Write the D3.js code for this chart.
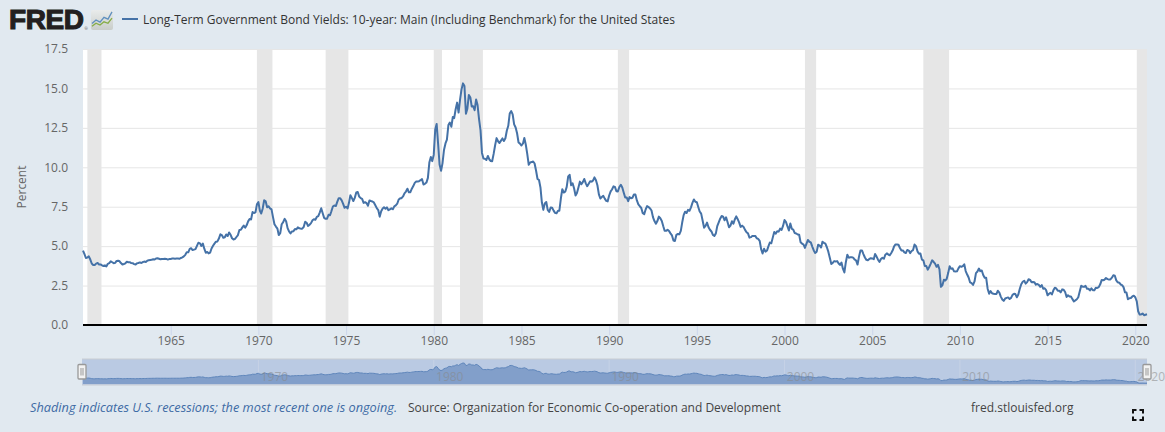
<!DOCTYPE html>
<html>
<head>
<meta charset="utf-8">
<script src="https://cdn.jsdelivr.net/npm/d3@7"></script>
<style>
html,body{margin:0;padding:0;background:#e1e9f0;overflow:hidden;}
text{font-family:"Open Sans",sans-serif;}
</style>
</head>
<body>
<div id="chart"></div>
<script>
// monthly values, one row per year, starting Jan 1960
const startYear = 1960;
const yieldRows = [
  [4.72,4.49,4.25,4.28,4.35,4.15,3.90,3.80,3.80,3.89,3.93,3.84],
  [3.84,3.78,3.74,3.78,3.71,3.88,3.92,4.04,3.98,3.92,3.94,4.06],
  [4.08,4.04,3.93,3.84,3.87,3.91,4.01,3.98,3.98,3.93,3.92,3.86],
  [3.83,3.92,3.93,3.97,3.93,3.99,4.02,4.00,4.08,4.11,4.12,4.13],
  [4.17,4.15,4.22,4.23,4.20,4.17,4.19,4.19,4.20,4.19,4.15,4.18],
  [4.19,4.21,4.21,4.20,4.21,4.21,4.20,4.25,4.29,4.35,4.45,4.62],
  [4.61,4.83,4.87,4.75,4.78,4.81,5.02,5.22,5.18,5.01,5.16,4.84],
  [4.58,4.63,4.54,4.59,4.85,5.02,5.16,5.28,5.30,5.48,5.75,5.70],
  [5.53,5.56,5.74,5.64,5.87,5.72,5.50,5.42,5.46,5.58,5.70,6.03],
  [6.04,6.19,6.30,6.17,6.32,6.57,6.72,6.69,7.16,7.10,7.14,7.65],
  [7.79,7.24,7.07,7.39,7.91,7.84,7.46,7.53,7.39,7.33,6.84,6.39],
  [6.24,6.11,5.70,5.83,6.39,6.52,6.73,6.58,6.14,5.93,5.81,5.93],
  [5.95,6.08,6.07,6.19,6.13,6.11,6.11,6.21,6.55,6.48,6.28,6.36],
  [6.46,6.64,6.71,6.67,6.85,6.90,7.13,7.40,7.09,6.79,6.73,6.74],
  [6.99,6.96,7.21,7.51,7.58,7.54,7.81,8.04,8.04,7.90,7.68,7.43],
  [7.50,7.39,7.73,8.23,8.06,7.86,8.06,8.40,8.43,8.14,8.05,8.00],
  [7.74,7.79,7.73,7.56,7.90,7.86,7.83,7.77,7.59,7.41,7.29,6.87],
  [7.21,7.39,7.46,7.37,7.46,7.28,7.33,7.40,7.34,7.52,7.58,7.69],
  [7.96,8.03,8.04,8.15,8.35,8.46,8.64,8.41,8.42,8.64,8.81,9.01],
  [9.10,9.10,9.12,9.18,9.25,8.91,8.95,9.03,9.33,10.30,10.65,10.39],
  [10.80,12.41,12.75,11.47,10.18,9.78,10.25,11.10,11.51,11.75,12.68,12.84],
  [12.57,13.19,13.12,13.68,14.10,13.47,14.28,14.94,15.32,15.15,13.39,13.72],
  [14.59,14.43,13.86,13.87,13.62,14.30,13.95,13.06,12.34,10.91,10.55,10.54],
  [10.46,10.72,10.51,10.40,10.38,10.85,11.38,11.85,11.65,11.54,11.69,11.83],
  [11.67,11.84,12.32,12.63,13.41,13.56,13.36,12.72,12.52,12.16,11.57,11.50],
  [11.38,11.51,11.86,11.43,10.85,10.16,10.31,10.33,10.37,10.24,9.78,9.26],
  [9.19,8.70,7.78,7.30,7.71,7.80,7.30,7.17,7.45,7.43,7.25,7.11],
  [7.08,7.25,7.25,8.02,8.61,8.40,8.45,8.76,9.42,9.52,8.86,8.99],
  [8.67,8.21,8.37,8.72,9.09,8.92,9.06,9.26,8.98,8.80,8.96,9.11],
  [9.09,9.17,9.36,9.18,8.86,8.28,8.02,8.11,8.19,8.01,7.87,7.84],
  [8.21,8.47,8.59,8.79,8.76,8.48,8.47,8.75,8.89,8.72,8.39,8.08],
  [8.09,7.85,8.11,8.04,8.07,8.28,8.27,7.90,7.65,7.53,7.42,7.09],
  [7.03,7.34,7.54,7.48,7.39,7.26,6.84,6.59,6.42,6.59,6.87,6.77],
  [6.60,6.26,5.98,5.97,6.04,5.96,5.81,5.68,5.36,5.33,5.72,5.77],
  [5.75,5.97,6.48,6.97,7.18,7.10,7.30,7.24,7.46,7.74,7.96,7.81],
  [7.78,7.47,7.20,7.06,6.63,6.17,6.28,6.49,6.20,6.04,5.93,5.71],
  [5.65,5.81,6.27,6.51,6.74,6.91,6.87,6.64,6.83,6.53,6.20,6.30],
  [6.58,6.42,6.69,6.89,6.71,6.49,6.22,6.30,6.21,6.03,5.88,5.81],
  [5.54,5.57,5.65,5.64,5.65,5.50,5.46,5.34,4.81,4.53,4.83,4.65],
  [4.72,5.00,5.23,5.18,5.54,5.90,5.79,5.94,5.92,6.11,6.03,6.28],
  [6.66,6.52,6.26,5.99,6.44,6.10,6.05,5.83,5.80,5.74,5.72,5.24],
  [5.16,5.10,4.89,5.14,5.39,5.28,5.24,4.97,4.73,4.57,4.65,5.09],
  [5.04,4.91,5.28,5.21,5.16,4.93,4.65,4.26,3.87,3.94,4.05,4.03],
  [4.05,3.90,3.81,3.96,3.57,3.33,3.98,4.45,4.27,4.29,4.30,4.27],
  [4.15,4.08,3.83,4.35,4.72,4.73,4.50,4.28,4.13,4.10,4.19,4.23],
  [4.22,4.17,4.50,4.34,4.14,4.00,4.18,4.26,4.20,4.46,4.54,4.47],
  [4.42,4.57,4.72,4.99,5.11,5.11,5.09,4.88,4.72,4.73,4.60,4.56],
  [4.76,4.72,4.56,4.69,4.75,5.10,5.00,4.67,4.52,4.53,4.15,4.10],
  [3.74,3.74,3.51,3.68,3.88,4.10,4.01,3.89,3.69,3.81,3.53,2.42],
  [2.52,2.87,2.82,2.93,3.29,3.72,3.56,3.59,3.40,3.39,3.40,3.59],
  [3.73,3.69,3.73,3.85,3.42,3.20,3.01,2.70,2.65,2.54,2.76,3.29],
  [3.39,3.58,3.41,3.46,3.17,3.00,3.00,2.30,1.98,2.15,2.01,1.98],
  [1.97,1.97,2.17,2.05,1.80,1.62,1.53,1.68,1.72,1.75,1.65,1.72],
  [1.91,1.98,1.96,1.76,1.93,2.30,2.58,2.74,2.81,2.62,2.72,2.90],
  [2.86,2.71,2.72,2.71,2.56,2.60,2.54,2.42,2.53,2.30,2.33,2.21],
  [1.88,1.98,2.04,1.94,2.20,2.36,2.32,2.17,2.17,2.07,2.26,2.24],
  [2.09,1.78,1.89,1.81,1.81,1.64,1.50,1.56,1.63,1.76,2.14,2.49],
  [2.43,2.42,2.48,2.30,2.30,2.19,2.32,2.21,2.20,2.36,2.35,2.40],
  [2.58,2.86,2.84,2.87,2.98,2.91,2.89,2.89,3.00,3.15,3.12,2.83],
  [2.71,2.68,2.57,2.53,2.40,2.07,2.06,1.63,1.70,1.71,1.81,1.86],
  [1.76,1.50,0.87,0.66,0.67,0.73,0.62,0.65,0.68]
];
const recessions = [
  ["1960-04-01","1961-01-20"],["1969-12-01","1970-10-20"],["1973-11-01","1975-02-18"],
  ["1980-01-01","1980-06-20"],["1981-07-01","1982-10-20"],["1990-07-01","1991-02-20"],
  ["2001-03-01","2001-10-20"],["2007-12-01","2009-05-20"],["2020-02-01","2020-09-01"]
];
const yTicks = [0,2.5,5,7.5,10,12.5,15,17.5];
const xTickYears = [1965,1970,1975,1980,1985,1990,1995,2000,2005,2010,2015,2020];
const navTickYears = [1970,1980,1990,2000,2010,2020];
// shape of the two small lines in the logo icon
const logoBlue = [3,5,3.8,6.5,5.5,9.5];
const logoGreen = [1.5,3.2,2.2,4,3.2,6];

const titleText = "Long-Term Government Bond Yields: 10-year: Main (Including Benchmark) for the United States";
const yLabel = "Percent";
const noteText = "Shading indicates U.S. recessions; the most recent one is ongoing.";
const sourceText = "Source: Organization for Economic Co-operation and Development";
const siteText = "fred.stlouisfed.org";

const parseDay = d3.timeParse("%Y-%m-%d");
const series = yieldRows.flatMap((row,i) =>
  row.map((v,m) => ({date:new Date(startYear+i,m,1), value:v})));

const width = 1165, height = 432;
const plot = {left:83, right:1147, top:49, bottom:325};
const nav = {top:360, bottom:384};

const svg = d3.select("#chart").append("svg")
  .attr("width",width).attr("height",height)
  .style("display","block");

const x = d3.scaleTime()
  .domain(d3.extent(series,d=>d.date))
  .range([plot.left,plot.right]);
const y = d3.scaleLinear().domain([0,17.5]).range([plot.bottom,plot.top]);

// plot background
svg.append("rect").attr("x",plot.left).attr("y",plot.top)
  .attr("width",plot.right-plot.left).attr("height",plot.bottom-plot.top)
  .attr("fill","#fff");

// grid lines
const yAxis = d3.axisLeft(y).tickValues(yTicks)
  .tickFormat(d3.format(".1f"))
  .tickSize(-(plot.right-plot.left)).tickPadding(15);
const yG = svg.append("g").attr("transform",`translate(${plot.left},0)`).call(yAxis);
yG.select(".domain").remove();
yG.selectAll(".tick line").attr("stroke","#e6e6e6");
yG.selectAll(".tick text").attr("fill","#666").style("font-size","12px")
  .attr("x",-15);

// recession bands
svg.append("g").selectAll("rect").data(recessions).join("rect")
  .attr("x",d=>x(parseDay(d[0])))
  .attr("y",plot.top)
  .attr("width",d=>x(parseDay(d[1]))-x(parseDay(d[0])))
  .attr("height",plot.bottom-plot.top)
  .attr("fill","#e6e6e6");

// x axis
const xAxis = d3.axisBottom(x)
  .tickValues(xTickYears.map(yr=>new Date(yr,0,1)))
  .tickFormat(d3.timeFormat("%Y")).tickSize(10).tickPadding(1);
const xG = svg.append("g").attr("transform",`translate(0,${plot.bottom})`).call(xAxis);
xG.select(".domain").remove();
xG.selectAll(".tick line").attr("stroke","#ccd6eb");
xG.selectAll(".tick text").attr("fill","#666").style("font-size","12px");

// series line
const line = d3.line().x(d=>x(d.date)).y(d=>y(d.value));
svg.append("path").datum(series).attr("d",line)
  .attr("fill","none").attr("stroke","#4572a7").attr("stroke-width",2)
  .attr("stroke-linejoin","round");

// baseline
svg.append("line").attr("x1",plot.left).attr("x2",plot.right)
  .attr("y1",y(0)).attr("y2",y(0))
  .attr("stroke","#000").attr("stroke-width",2);

svg.append("text").attr("transform",`translate(26,${(plot.top+plot.bottom)/2}) rotate(-90)`)
  .attr("text-anchor","middle").attr("fill","#666").style("font-size","12px").text(yLabel);

// navigator
const navY = d3.scaleLinear().domain([0,17.5]).range([nav.bottom,nav.top]);
svg.append("rect").attr("x",plot.left-1).attr("y",nav.top-1)
  .attr("width",plot.right-plot.left+1).attr("height",nav.bottom-nav.top+2)
  .attr("fill","#bacae3");
svg.selectAll(".nav-grid").data(navTickYears).join("line").attr("class","nav-grid")
  .attr("x1",d=>x(new Date(d,0,1))).attr("x2",d=>x(new Date(d,0,1)))
  .attr("y1",nav.top).attr("y2",nav.bottom).attr("stroke","#c6d2e6");
const navArea = d3.area().x(d=>x(d.date)).y0(nav.bottom).y1(d=>navY(d.value));
const navLine = d3.line().x(d=>x(d.date)).y(d=>navY(d.value));
svg.append("path").datum(series).attr("d",navArea).attr("fill","#829fca");
svg.append("path").datum(series).attr("d",navLine)
  .attr("fill","none").attr("stroke","#5f86bb").attr("stroke-width",1);
svg.selectAll(".nav-label").data(navTickYears).join("text").attr("class","nav-label")
  .attr("x",d=>x(new Date(d,0,1))+16).attr("y",381)
  .attr("text-anchor","middle").attr("fill","#888").attr("opacity",0.55)
  .style("font-size","12px").text(d=>d);
[nav.top-1,nav.bottom+1].forEach(yy=>{
  svg.append("line").attr("x1",plot.left-1).attr("x2",plot.right)
    .attr("y1",yy).attr("y2",yy).attr("stroke","#c8ccd2").attr("stroke-width",1);
});
// scrollbar handles
const handles = svg.selectAll(".handle").data([plot.left-1,plot.right]).join("g")
  .attr("class","handle").attr("transform",d=>`translate(${d},364.5)`);
handles.append("rect").attr("x",-4).attr("y",0).attr("width",8).attr("height",14.5).attr("rx",1)
  .attr("fill","#f2f2f2").attr("stroke","#999").attr("stroke-width",1.3);
handles.selectAll("line").data([-1,1]).join("line")
  .attr("x1",d=>d).attr("x2",d=>d).attr("y1",3.5).attr("y2",11).attr("stroke","#999");

// header: logo and legend
svg.append("text").attr("x",9).attr("y",29)
  .style("font-family","'Liberation Sans',sans-serif")
  .style("font-weight",700).style("font-size","28px").attr("fill","#231f20")
  .attr("stroke","#231f20").attr("stroke-width",1.1).attr("textLength",75).text("FRED");
svg.append("text").attr("x",84.5).attr("y",30).attr("fill","#555")
  .style("font-size","4px").text("®");

const logoGrad = svg.append("defs").append("linearGradient")
  .attr("id","logoGrad").attr("x1",0).attr("x2",0).attr("y1",0).attr("y2",1);
logoGrad.append("stop").attr("offset","0%").attr("stop-color","#e9ebeb");
logoGrad.append("stop").attr("offset","100%").attr("stop-color","#c9cdca");
const logo = svg.append("g").attr("transform","translate(91,10)");
logo.append("rect").attr("width",22).attr("height",20).attr("rx",2).attr("fill","url(#logoGrad)");
const logoX = d3.scaleLinear().domain([0,5]).range([1,21]);
const logoY = d3.scaleLinear().domain([0,10]).range([19,1]);
const logoLine = d3.line().x((d,i)=>logoX(i)).y(d=>logoY(d));
logo.append("path").attr("d",logoLine(logoBlue)).attr("fill","none").attr("stroke","#5f8fbe").attr("stroke-width",1.3);
logo.append("path").attr("d",logoLine(logoGreen)).attr("fill","none").attr("stroke","#86ad47").attr("stroke-width",1.3);

svg.append("line").attr("x1",122).attr("x2",138).attr("y1",19).attr("y2",19)
  .attr("stroke","#4572a7").attr("stroke-width",2);
svg.append("text").attr("x",143).attr("y",24).attr("fill","#333")
  .style("font-size","12px").text(titleText);

// footer
svg.append("text").attr("x",30).attr("y",412).attr("fill","#3e6ba5")
  .style("font-size","12.75px").style("font-style","italic").text(noteText);
svg.append("text").attr("x",408).attr("y",412).attr("fill","#444")
  .style("font-size","12px").text(sourceText);
svg.append("text").attr("x",971).attr("y",412).attr("fill","#444")
  .style("font-size","12px").text(siteText);

// fullscreen corners
const fs = svg.append("g").attr("stroke","#111").attr("stroke-width",2).attr("fill","none");
[[1133,410,1,1],[1143,410,-1,1],[1133,420,1,-1],[1143,420,-1,-1]].forEach(c=>{
  fs.append("path").attr("d",`M${c[0]+3.5*c[2]},${c[1]}H${c[0]}V${c[1]+3.5*c[3]}`);
});
</script>
</body>
</html>
